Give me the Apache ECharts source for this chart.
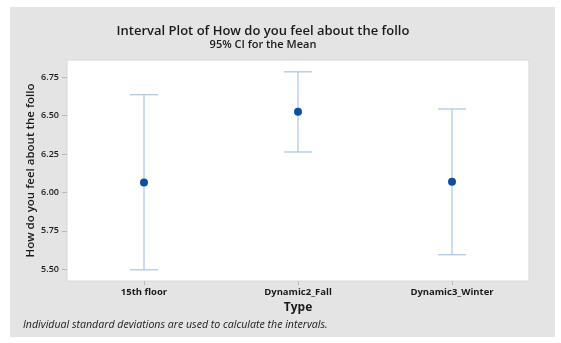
<!DOCTYPE html>
<html><head><meta charset="utf-8">
<script src="https://cdn.jsdelivr.net/npm/echarts@6/dist/echarts.min.js"></script>
<style>html,body{margin:0;padding:0;background:#fff}#c{width:561px;height:343px}</style>
</head><body><div id="c"></div>
<script>
const categories = ['15th floor', 'Dynamic2_Fall', 'Dynamic3_Winter'];
const means = [6.066, 6.526, 6.070];
const lower = [5.497, 6.264, 5.595];
const upper = [6.637, 6.786, 6.544];
const yTicks = [5.50, 5.75, 6.00, 6.25, 6.50, 6.75];

const chart = echarts.init(document.getElementById('c'));
const font = '"Open Sans", "Noto Sans", sans-serif';
chart.setOption({
  backgroundColor: '#ffffff',
  animation: false,
  graphic: [
    {type:'rect', z:-10, shape:{x:10,y:7,width:545,height:330}, style:{fill:'#e4e4e4'}},
    {type:'text', style:{x:263, y:31, text:'Interval Plot of How do you feel about the follo', textAlign:'center', textVerticalAlign:'middle', font:'600 13px '+font, fill:'#1a1a1a'}},
    {type:'text', style:{x:263, y:44.5, text:'95% CI for the Mean', textAlign:'center', textVerticalAlign:'middle', font:'600 11px '+font, fill:'#1a1a1a'}},
    {type:'text', style:{x:23, y:325, text:'Individual standard deviations are used to calculate the intervals.', textAlign:'left', textVerticalAlign:'middle', font:'italic 10.6px '+font, fill:'#1a1a1a'}}
  ],
  grid: {left:67, top:60, width:462, height:221, show:true, backgroundColor:'#ffffff', borderColor:'#d8d8d8', borderWidth:1},
  xAxis: {
    type:'category', data: categories,
    name:'Type', nameLocation:'middle', nameGap:20,
    nameTextStyle:{fontFamily:font, fontSize:12, fontWeight:'bold', color:'#1a1a1a'},
    axisLine:{show:false},
    axisTick:{show:true, alignWithLabel:true, length:4, lineStyle:{color:'#bbb'}},
    axisLabel:{fontFamily:font, fontSize:9.5, fontWeight:'bold', color:'#1a1a1a', margin:6}
  },
  yAxis: {
    type:'value', min:5.424, max:6.863,
    name:'How do you feel about the follo', nameLocation:'middle', nameGap:30, nameMoveOverlap:false,
    nameTextStyle:{fontFamily:font, fontSize:11.5, fontWeight:600, color:'#1a1a1a'},
    axisLine:{show:false}, splitLine:{show:false},
    axisLabel:{fontFamily:font, fontSize:9, fontWeight:600, color:'#1a1a1a', margin:8,
      customValues: yTicks, formatter: v => v.toFixed(2)},
    axisTick:{show:true, length:5, customValues: yTicks, lineStyle:{color:'#bbb'}}
  },
  series: [
    {
      type:'custom',
      data: categories.map((c,i)=>[i, lower[i], upper[i]]),
      renderItem: function(params, api){
        const lo = api.coord([api.value(0), api.value(1)]);
        const hi = api.coord([api.value(0), api.value(2)]);
        const hw = 14;
        const st = {stroke:'#a8c4e6', lineWidth:1.2};
        return {type:'group', children:[
          {type:'line', shape:{x1:lo[0],y1:lo[1],x2:hi[0],y2:hi[1]}, style:st},
          {type:'line', shape:{x1:lo[0]-hw,y1:lo[1],x2:lo[0]+hw,y2:lo[1]}, style:st},
          {type:'line', shape:{x1:hi[0]-hw,y1:hi[1],x2:hi[0]+hw,y2:hi[1]}, style:st}
        ]};
      },
      z:1
    },
    {
      type:'scatter', symbol:'circle', symbolSize:8,
      itemStyle:{color:'#0a4fa3', opacity:1},
      data: means.map((m,i)=>[i, m]), z:2
    }
  ]
});
</script></body></html>
